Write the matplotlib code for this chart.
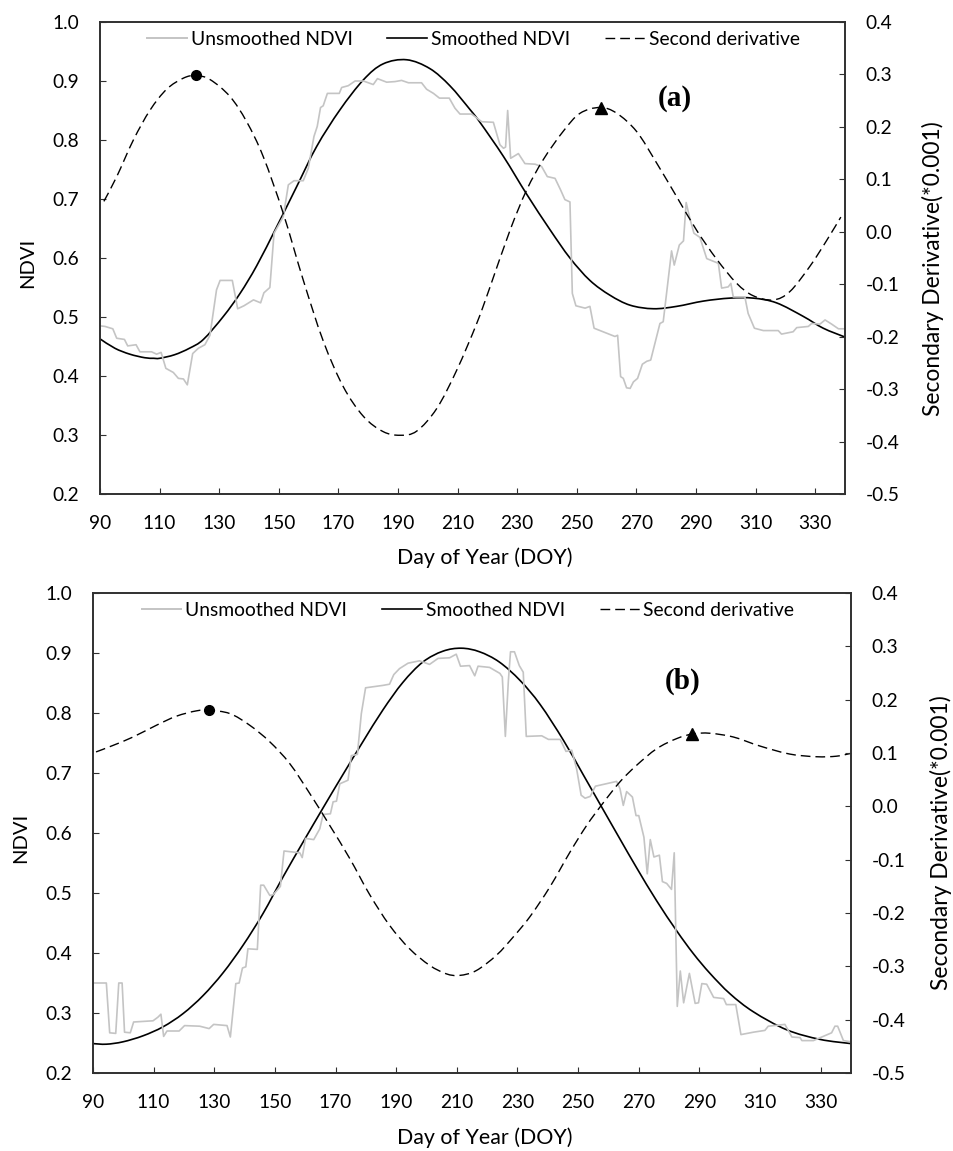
import matplotlib
matplotlib.use('Agg')
import matplotlib.pyplot as plt
from matplotlib.lines import Line2D
from matplotlib.patches import PathPatch
from matplotlib.path import Path

plt.rcParams['font.family'] = ['Lato', 'DejaVu Sans']

# panel (a)
raw_doy_a = [90, 91.7, 94.3, 95.6, 98.2, 99.3, 102.1, 103.4, 107.3, 109, 110.5, 112.1, 114.6, 116.3, 118, 119.3,
             121.1, 123, 125.2, 126.9, 129.1, 130.3, 134.4, 136.2, 138.3, 141.5, 143.9, 145, 147, 148.4, 151.5,
             153.2, 155.1, 158.2, 159.9, 161.8, 162.9, 164, 164.9, 166.3, 170.3, 171.1, 173.3, 175.6, 178.4,
             181.7, 183.1, 186.2, 189, 191.2, 193.5, 197.9, 199.6, 201.9, 203.9, 207.2, 209.1, 210.8, 214.7,
             218.1, 222, 224.2, 225.4, 226.1, 226.8, 227.8, 230.4, 232.6, 236, 238.2, 240.1, 242.7, 244.6, 246,
             247.7, 248.5, 249.7, 252.8, 254.4, 255.8, 262.8, 263.7, 264.7, 265.6, 266.7, 267.9, 269, 270.4,
             272, 273.5, 274.8, 277.9, 279, 281.8, 282.7, 284.4, 285.8, 286.7, 287.8, 289.3, 291.3, 293.6,
             297.5, 298.6, 300.8, 301.7, 302.5, 306.4, 307.5, 309.6, 312.6, 317.6, 318.7, 322.6, 323.8, 327.7,
             328.8, 331.6, 333.3, 335.5, 337.8, 340]
raw_ndvi_a = [.485, .484, .480, .464, .462, .451, .453, .441, .441, .437, .440, .413, .406, .396, .395, .385,
              .438, .447, .453, .469, .546, .562, .562, .514, .519, .529, .524, .541, .550, .642, .670,
              .724, .731, .731, .752, .806, .823, .855, .858, .879, .879, .889, .892, .900, .900,
              .894, .904, .898, .899, .901, .897, .897, .886, .879, .871, .871, .854, .844, .844,
              .831, .830, .792, .786, .788, .850, .769, .777, .760, .759, .755, .738, .735, .715, .699,
              .695, .540, .519, .515, .518, .481, .467, .469, .399, .396, .380, .379, .390, .396,
              .420, .425, .427, .489, .492, .612, .588, .622, .629, .694, .670, .642, .635, .599,
              .591, .549, .551, .557, .534, .534, .506, .481, .477, .477, .471, .475, .482, .484,
              .489, .488, .495, .488, .480, .480]

smooth_doy_a = [90, 95, 100, 105, 108, 110, 115, 120, 124.7, 131.4, 137, 142.6, 149.3, 156, 162.7, 170.5, 178.4,
                185, 192.9, 200.7, 207.4, 214.1, 217.5, 225.4, 233.2, 241, 247.7, 254.4, 261.1, 267.9, 275.7,
                283.5, 292.5, 301.4, 309.2, 317, 326, 332.7, 340]
smooth_ndvi_a = [.463, .447, .437, .431, .430, .430, .436, .447, .462, .501, .540, .587, .653, .721, .789, .851, .902,
                 .929, .936, .921, .892, .852, .830, .772, .708, .648, .600, .562, .537, .520, .514,
                 .518, .527, .532, .532, .524, .501, .481, .466]

deriv_doy_a = [91.3, 95.6, 101.2, 106.8, 112.4, 118, 122.2, 127, 133.6, 139.2, 144.8, 151.5, 158.2, 164.9, 171.6,
               178.4, 185, 190.7, 196.3, 203, 209.7, 216.4, 220.9, 227.6, 233.2, 238.8, 245.5, 251.1, 257.8,
               263.4, 270.1, 276.8, 283.5, 290.2, 296.9, 303.6, 309.2, 315.9, 321.5, 328.2, 333.8, 338.6]
deriv_a = [.058, .105, .175, .232, .272, .293, .298, .290, .258, .210, .143, .035, -.092, -.208, -.295,
           -.352, -.381, -.388, -.380, -.337, -.264, -.175, -.105, .003, .080, .138, .192, .226, .237,
           .226, .191, .131, .067, .003, -.052, -.098, -.122, -.130, -.114, -.066, -.017, .028]

# panel (b)
raw_doy_b = [90, 94.4, 95.5, 97.5, 98.5, 99.6, 100.4, 102.3, 103.4, 109.8, 111.4, 112.4, 113.3, 114.4, 118.4,
             120.2, 125.2, 128.3, 129.8, 134.2, 135.3, 137.1, 138.2, 139.3, 140.4, 141.1, 144.2, 145.3, 146.3,
             148.3, 149.4, 151.8, 153, 158.2, 159, 160.1, 162.8, 164.8, 165.9, 168.3, 169.2, 170.3, 171.4,
             174.1, 175.2, 177.2, 178.5, 179.9, 185.6, 187.8, 189.2, 191.1, 193.9, 197.7, 201, 203.8, 207.6,
             209.8, 211.2, 214.2, 215.9, 217, 220.8, 224.2, 225, 226, 227, 227.7, 229, 230.6, 231.9, 232.9,
             238, 240.2, 244.1, 246, 247.9, 249.5, 251, 252.3, 254, 255.7, 262.7, 263.8, 264.9, 266, 267.9,
             269.1, 270, 271.7, 272.8, 273.8, 275, 276.8, 277.8, 279.2, 280.8, 281.7, 282.7, 283.7, 284.8,
             286.7, 288.6, 289.7, 290.8, 292.4, 294.7, 298, 298.9, 302, 303.7, 307.8, 311.6, 312.7, 318.2,
             320.5, 323.2, 323.8, 327.6, 333.6, 334.7, 335.6, 337.5, 340]
raw_ndvi_b = [.350, .350, .267, .266, .350, .350, .268, .267, .285, .287, .293, .298, .261, .270, .270,
              .279, .278, .274, .281, .279, .260, .349, .350, .375, .377, .407, .406, .513, .513,
              .496, .497, .511, .570, .567, .559, .591, .589, .607, .631, .632, .652, .653, .682,
              .688, .729, .731, .799, .842, .846, .848, .864, .874, .883, .887, .881, .891, .892,
              .898, .878, .879, .862, .878, .876, .866, .860, .761, .854, .902, .902, .879, .868, .761,
              .762, .756, .756, .736, .738, .707, .663, .658, .661, .678, .686, .674, .646, .669, .660,
              .629, .629, .593, .532, .589, .560, .563, .519, .516, .506, .567, .311, .370, .317,
              .366, .316, .317, .349, .348, .326, .324, .314, .314, .264, .268, .271, .278, .281,
              .260, .259, .254, .254, .267, .278, .278, .254, .252]

smooth_doy_b = [90, 94.4, 99.9, 106.5, 113.1, 119.7, 126.3, 132.9, 139.5, 146.1, 152.7, 159.3, 165.9, 172.5, 179,
                185.6, 192.2, 198.8, 205.4, 211.5, 217.5, 224, 230.9, 237.5, 245.1, 251.7, 257.8, 263.8, 269.3,
                275.9, 282.5, 288, 293.5, 300.1, 307.8, 318.8, 329.8, 340]
smooth_ndvi_b = [.249, .248, .252, .262, .277, .299, .329, .367, .413, .466, .527, .585, .642, .698, .752,
                 .805, .851, .885, .903, .908, .902, .885, .854, .814, .755, .697, .643, .590, .542,
                 .487, .437, .399, .366, .332, .302, .272, .256, .249]

deriv_doy_b = [91, 96.5, 103.2, 110.9, 117.5, 124.1, 128.3, 135.1, 141.7, 148.3, 154.9, 161.5, 168.1, 174.7, 181.2,
               187.8, 194.4, 201, 206.5, 210.9, 216.4, 223.1, 228.6, 234.1, 240.7, 247.3, 252.8, 257.8, 263.8,
               269.3, 275.9, 282.5, 288, 293.5, 301.2, 310, 319.8, 328.6, 335.2, 339.7]
deriv_b = [.102, .114, .130, .152, .169, .179, .180, .174, .152, .121, .080, .024, -.036, -.098, -.165,
           -.223, -.267, -.298, -.314, -.317, -.308, -.279, -.245, -.207, -.151, -.086, -.036, .003, .046,
           .077, .108, .127, .136, .137, .130, .113, .098, .093, .094, .099]

doy_ticks = list(range(90, 340, 20))
ndvi_ticks = [0.2, 0.3, 0.4, 0.5, 0.6, 0.7, 0.8, 0.9, 1.0]
deriv_ticks = [-0.5, -0.4, -0.3, -0.2, -0.1, 0.0, 0.1, 0.2, 0.3, 0.4]

W, H = 954, 1151
SPINE = '#303030'
DASH = (0, (7, 3.6))


def smooth_line(ax, xs, ys, **kw):
    # excel style smoothed line through the read points
    verts = [(xs[0], ys[0])]
    codes = [Path.MOVETO]
    n = len(xs)
    for i in range(n - 1):
        a, b = max(i - 1, 0), min(i + 2, n - 1)
        verts.append((xs[i] + (xs[i + 1] - xs[a]) / 6, ys[i] + (ys[i + 1] - ys[a]) / 6))
        verts.append((xs[i + 1] - (xs[b] - xs[i]) / 6, ys[i + 1] - (ys[b] - ys[i]) / 6))
        verts.append((xs[i + 1], ys[i + 1]))
        codes += [Path.CURVE4] * 3
    ax.add_patch(PathPatch(Path(verts, codes), fill=False, capstyle='butt', **kw))


def px_text(fig, x, y, s, **kw):
    fig.text(x / W, 1 - y / H, s, ha='center', va='center', **kw)


def draw_panel(fig, box, raw, smooth, deriv, circle, triangle, tag, tag_xy, xlabel_xy, ylabel_xy, rlabel_xy, legend_x):
    x0, y0, x1, y1 = box
    ax = fig.add_axes([x0 / W, 1 - y1 / H, (x1 - x0) / W, (y1 - y0) / H])
    ax2 = ax.twinx()
    ax.plot(raw[0], raw[1], color='#c4c4c4', lw=1.2)
    smooth_line(ax, smooth[0], smooth[1], edgecolor='black', lw=1.2)
    smooth_line(ax2, deriv[0], deriv[1], edgecolor='black', lw=1.0, ls=DASH)
    ax2.plot(circle[0], circle[1], 'o', color='black', ms=7)
    ax2.plot(triangle[0], triangle[1], '^', color='black', ms=8.5)

    ax.set_xlim(90, 340)
    ax.set_ylim(0.2, 1.0)
    ax2.set_ylim(-0.5, 0.4)
    ax.set_xticks(doy_ticks)
    ax.set_yticks(ndvi_ticks)
    ax.set_yticklabels(['%.1f' % t for t in ndvi_ticks])
    ax2.set_yticks(deriv_ticks)
    ax2.set_yticklabels(['%.1f' % t for t in deriv_ticks])
    for a in (ax, ax2):
        a.tick_params(direction='in', length=4.5, width=0.8, color=SPINE, labelsize=13.8, pad=15)
        for s in a.spines.values():
            s.set_color(SPINE)
            s.set_linewidth(1.2)
    px_text(fig, xlabel_xy[0], xlabel_xy[1], 'Day of Year (DOY)', fontsize=15.4)
    px_text(fig, ylabel_xy[0], ylabel_xy[1], 'NDVI', fontsize=14.5, rotation=90)
    px_text(fig, rlabel_xy[0], rlabel_xy[1], 'Secondary Derivative(*0.001)', fontsize=16.4, rotation=90)

    handles = [Line2D([], [], color='#c4c4c4', lw=1.4), Line2D([], [], color='black', lw=1.2),
               Line2D([], [], color='black', lw=1.0, ls=DASH)]
    ax2.legend(handles, ['Unsmoothed NDVI', 'Smoothed NDVI', 'Second derivative'], loc='upper left',
               bbox_to_anchor=(legend_x, 0.981), ncol=3, frameon=False, fontsize=13.9, handlelength=2.07,
               handletextpad=0.2, columnspacing=1.8, borderaxespad=0, borderpad=0)
    ax2.text(tag_xy[0], tag_xy[1], tag, family='Liberation Serif', weight='bold', fontsize=21,
             ha='center', va='center', transform=ax.transData)


fig = plt.figure(figsize=(W / 100, H / 100), dpi=100)
draw_panel(fig, (100, 22, 845, 494), (raw_doy_a, raw_ndvi_a), (smooth_doy_a, smooth_ndvi_a), (deriv_doy_a, deriv_a),
           (122.2, .298), (258.2, .236), '(a)', (283, .871), (485, 558), (28, 263), (933, 269), 0.063)
draw_panel(fig, (93, 593, 851, 1073), (raw_doy_b, raw_ndvi_b), (smooth_doy_b, smooth_ndvi_b), (deriv_doy_b, deriv_b),
           (128.3, .180), (287.7, .135), '(b)', (284.6, .852), (485, 1138), (21, 838), (941, 843), 0.064)
fig.savefig('out.png', dpi=100)
